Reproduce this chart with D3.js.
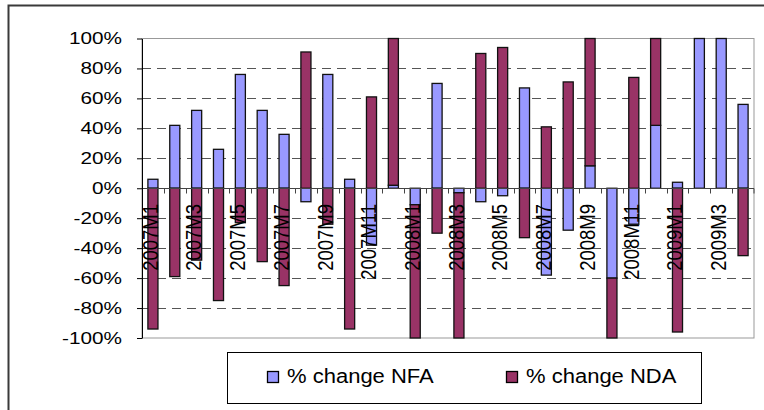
<!doctype html>
<html lang="en">
<head>
  <meta charset="utf-8">
  <title>% change NFA / NDA - D3</title>
  <style>
    body { margin: 0; background: #fff; }
    svg { display: block; font-family: "Liberation Sans", Arial, sans-serif; }
  </style>
</head>
<body>
  <svg width="764" height="410"></svg>

  <script src="https://cdn.jsdelivr.net/npm/d3@7/dist/d3.min.js"></script>
  <script>
    var categories = ['2007M1', '2007M2', '2007M3', '2007M4', '2007M5', '2007M6', '2007M7',
      '2007M8', '2007M9', '2007M10', '2007M11', '2007M12', '2008M1', '2008M2', '2008M3',
      '2008M4', '2008M5', '2008M6', '2008M7', '2008M8', '2008M9', '2008M10', '2008M11',
      '2008M12', '2009M1', '2009M2', '2009M3', '2009M4'];
    var nfa = [6, 42, 52, 26, 76, 52, 36, -9, 76, 6, -38, 2, -11, 70,
      -3, -9, -5, 67, -58, -28, 15, -60, -24, 42, 4, 115, 110, 56];
    var nda = [-94, -59, -48, -75, -23, -49, -65, 91, -24, -94, 61, 105, -105, -30,
      -102, 90, 94, -33, 41, 71, 95, -45, 74, 65, -96, 0, 0, -45];
    var yTicks = [-100, -80, -60, -40, -20, 0, 20, 40, 60, 80, 100];
    var seriesNames = ['% change NFA', '% change NDA'];
    var colors = ['#9999ff', '#993366'];

    var svg = d3.select('svg');

    // outer chart frame (runs off the right and bottom of the picture)
    svg.append('rect')
      .attr('x', 8.5).attr('y', 5.5)
      .attr('width', 820).attr('height', 480)
      .attr('fill', '#fff')
      .attr('stroke', '#3a3a3a')
      .attr('stroke-width', 2);

    var plotL = 142, plotR = 754, plotT = 38.5, plotB = 338;

    var x = d3.scaleBand().domain(categories).range([plotL, plotR]).padding(0);
    var y = d3.scaleLinear().domain([-100, 100]).range([plotB, plotT]).clamp(true);
    var barW = x.bandwidth() * 0.46;

    // gridlines
    svg.append('g').selectAll('line')
      .data(yTicks.filter(function (v) { return v !== 0 && Math.abs(v) !== 100; }))
      .enter().append('line')
      .attr('x1', plotL).attr('x2', plotR)
      .attr('y1', function (v) { return Math.round(y(v)) + 0.5; })
      .attr('y2', function (v) { return Math.round(y(v)) + 0.5; })
      .attr('stroke', '#555')
      .attr('stroke-dasharray', '9,6');

    // plot area border
    svg.append('rect')
      .attr('x', plotL).attr('y', plotT)
      .attr('width', plotR - plotL).attr('height', plotB - plotT)
      .attr('fill', 'none')
      .attr('stroke', '#999');

    var table = categories.map(function (c, i) {
      return { cat: c, nfa: nfa[i], nda: nda[i] };
    });
    var stacked = d3.stack().keys(['nfa', 'nda'])
      .offset(d3.stackOffsetDiverging)(table);

    svg.append('g').selectAll('g').data(stacked).enter()
      .append('g')
      .attr('fill', function (d, i) { return colors[i]; })
      .selectAll('rect').data(function (d) { return d; }).enter()
      .append('rect')
      .attr('x', function (d) { return x(d.data.cat) + (x.bandwidth() - barW) / 2; })
      .attr('width', barW)
      .attr('y', function (d) { return y(Math.max(d[0], d[1])); })
      .attr('height', function (d) { return Math.abs(y(d[0]) - y(d[1])); })
      .attr('stroke', '#111')
      .attr('stroke-width', 1.3);

    // category axis along 0%
    var y0 = Math.round(y(0)) + 0.5;
    svg.append('line')
      .attr('x1', plotL).attr('x2', plotR)
      .attr('y1', y0).attr('y2', y0)
      .attr('stroke', '#444');
    svg.append('g').selectAll('line')
      .data(categories.concat(['end']))
      .enter().append('line')
      .attr('x1', function (c) { return c === 'end' ? plotR : Math.round(x(c)) + 0.5; })
      .attr('x2', function (c) { return c === 'end' ? plotR : Math.round(x(c)) + 0.5; })
      .attr('y1', y0).attr('y2', y0 + 5)
      .attr('stroke', '#444');

    svg.append('g').selectAll('text')
      .data(categories.filter(function (c, i) { return i % 2 === 0; }))
      .enter().append('text')
      .text(function (c) { return c; })
      .attr('transform', function (c) {
        return 'translate(' + (x(c) + x.bandwidth() / 2 - 3) + ',204) scale(1.2,1) rotate(-90)';
      })
      .attr('dy', '0.35em')
      .attr('text-anchor', 'end')
      .attr('font-size', 18.5)
      .attr('fill', '#000');

    // value axis
    var yAxis = svg.append('g')
      .attr('transform', 'translate(' + plotL + ',0)')
      .call(d3.axisLeft(y).tickValues(yTicks).tickSize(5).tickSizeOuter(0)
        .tickPadding(15).tickFormat(function (v) { return v + '%'; }));
    yAxis.select('.domain').attr('stroke', '#000');
    yAxis.selectAll('.tick line').attr('stroke', '#000');
    yAxis.selectAll('text')
      .attr('font-size', 17)
      .attr('font-family', '"Liberation Sans", Arial, sans-serif')
      .attr('fill', '#000')
      .each(function () {
        var w = this.getComputedTextLength();
        d3.select(this).attr('textLength', w * 1.22).attr('lengthAdjust', 'spacingAndGlyphs');
      });

    // legend
    var legend = svg.append('g');
    legend.append('rect')
      .attr('x', 227.5).attr('y', 352.5)
      .attr('width', 474).attr('height', 51)
      .attr('fill', '#fff')
      .attr('stroke', '#000');
    var legendX = [267, 506];
    var item = legend.selectAll('g.item').data(seriesNames).enter()
      .append('g').attr('class', 'item');
    item.append('rect')
      .attr('x', function (d, i) { return legendX[i] + 0.5; })
      .attr('y', 371.5)
      .attr('width', 11).attr('height', 11)
      .attr('fill', function (d, i) { return colors[i]; })
      .attr('stroke', '#000')
      .attr('stroke-width', 1.3);
    item.append('text')
      .text(function (d) { return d; })
      .attr('x', function (d, i) { return legendX[i] + 20; })
      .attr('y', 383)
      .attr('font-size', 20)
      .attr('fill', '#000')
      .each(function () {
        var w = this.getComputedTextLength();
        d3.select(this).attr('textLength', w * 1.1).attr('lengthAdjust', 'spacingAndGlyphs');
      });
  </script>
</body>
</html>
